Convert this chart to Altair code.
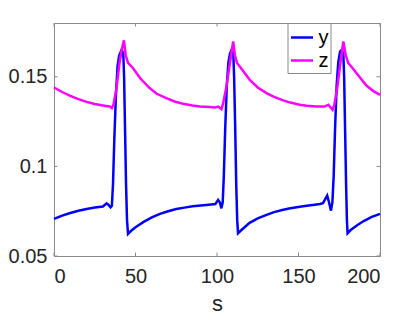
import altair as alt
import pandas as pd

# Series y (blue)
y_s = [0, 5, 10, 15, 20, 25, 30, 32.3, 33.5, 34.7, 35.5, 36.2, 37.0, 38.0, 39.0, 40.0, 41.5, 42.5, 43.0, 43.6, 44.2, 44.8, 45.4,
       47, 50, 55, 60, 65, 70, 75, 80, 85, 90, 95, 99, 100.7, 101.7, 102.7, 103.5, 104.2, 105, 106, 107, 108, 109, 110, 110.5,
       111.2, 111.8, 112.4, 112.9, 115, 120, 125, 130.4, 135, 140, 145, 150.8, 155, 160, 163.1, 165, 167.6, 168.7, 169.9, 170.8,
       171.6, 172.4, 173.4, 174.4, 175.5, 176.5, 177.5, 178, 178.6, 179.2, 179.7, 180.1, 182, 186, 190, 195, 200]
y_v = [0.0707, 0.0725, 0.0740, 0.0752, 0.0762, 0.0770, 0.0776, 0.0794, 0.0785, 0.0772, 0.0780, 0.0900, 0.1150, 0.1400, 0.1560,
       0.1620, 0.1650, 0.1630, 0.1500, 0.1200, 0.0900, 0.0700, 0.0623,
       0.0638, 0.0660, 0.0690, 0.0715, 0.0735, 0.0750, 0.0762, 0.0770, 0.0777, 0.0782, 0.0786, 0.0790, 0.0813, 0.0800, 0.0766,
       0.0800, 0.0950, 0.1200, 0.1450, 0.1580, 0.1630, 0.1650, 0.1630, 0.1500,
       0.1200, 0.0900, 0.0700, 0.0627, 0.0645, 0.0685, 0.0710, 0.0729, 0.0745, 0.0757, 0.0766, 0.0775, 0.0780, 0.0786, 0.0790,
       0.0795, 0.0837, 0.0800, 0.0753, 0.0800,
       0.0950, 0.1200, 0.1450, 0.1580, 0.1640, 0.1650, 0.1630, 0.1500, 0.1200, 0.0900, 0.0700, 0.0627, 0.0645, 0.0672, 0.0695,
       0.0718, 0.0735]

# Series z (magenta)
z_s = [0, 5, 10, 15, 20, 25, 30, 34.1, 35.5, 36.5, 38.2, 40.2, 41.5, 42.9, 44, 45.4, 48.4, 53, 58.7, 63, 68.9, 74, 79.2, 85,
       89.5, 95.5, 98.6, 100.7, 102.7, 103.7, 105.8, 107.8, 109.9, 111, 112.3, 115, 120.1, 125, 130.4, 135, 140.6, 145, 150.8,
       155, 161.1, 166, 168.3, 170.9, 172, 173.8, 175.6, 177.5, 179, 180.5, 183, 186, 191.8, 196, 200]
z_v = [0.1440, 0.1415, 0.1393, 0.1375, 0.1360, 0.1348, 0.1340, 0.1334, 0.1325, 0.1345, 0.1427, 0.1577, 0.1650, 0.1703, 0.1620,
       0.1577, 0.1549, 0.1490, 0.1437, 0.1405, 0.1381, 0.1362, 0.1349, 0.1340,
       0.1334, 0.1331, 0.1328, 0.1334, 0.1320, 0.1350, 0.1446, 0.1570, 0.1697, 0.1620, 0.1577, 0.1545, 0.1483, 0.1440, 0.1409,
       0.1388, 0.1368, 0.1356, 0.1344,
       0.1338, 0.1334, 0.1334, 0.1344, 0.1316, 0.1345, 0.1440, 0.1570, 0.1697, 0.1620, 0.1577, 0.1550, 0.1515, 0.1450, 0.1420,
       0.1399]

x_ticks = [0, 50, 100, 150, 200]
y_ticks = [0.05, 0.1, 0.15]
series_names = ["y", "z"]
series_colors = ["#0000ff", "#ff00ff"]

W, H = 326, 233
FONT = "Liberation Sans"
FRAME = "#8a8a8a"

df = pd.concat([
    pd.DataFrame({"s": y_s, "v": y_v, "series": "y"}),
    pd.DataFrame({"s": z_s, "v": z_v, "series": "z"}),
])

xscale = alt.Scale(domain=[0, 200], nice=False, zero=False)
yscale = alt.Scale(domain=[0.05, 0.18], nice=False, zero=False)

lines = alt.Chart(df).mark_line(strokeWidth=2.5).encode(
    x=alt.X("s:Q", scale=xscale, title="s",
            axis=alt.Axis(values=x_ticks, grid=False, ticks=False, tickSize=0, domain=False,
                          labelFont=FONT, labelFontSize=20, labelColor="#262626", labelPadding=10,
                          titleFont=FONT, titleFontSize=22, titleFontWeight="normal", titleColor="#262626",
                          titleBaseline="alphabetic", titleY=54)),
    y=alt.Y("v:Q", scale=yscale, title=None,
            axis=alt.Axis(values=y_ticks, grid=False, ticks=False, tickSize=0, domain=False,
                          labelFont=FONT, labelFontSize=20, labelColor="#262626", labelPadding=7,
                          labelExpr="datum.value == 0.1 ? '0.1' : format(datum.value, '.2f')")),
    color=alt.Color("series:N", scale=alt.Scale(domain=series_names, range=series_colors),
                    legend=alt.Legend(title=None, orient="none", legendX=233.5, legendY=0,
                                      strokeColor=FRAME, fillColor="white", padding=2, cornerRadius=0,
                                      symbolType="stroke", symbolSize=484, symbolStrokeWidth=2.5,
                                      labelFont=FONT, labelFontSize=20, labelColor="black",
                                      labelOffset=4, rowPadding=0)),
    order=alt.Order("s:Q"),
)

xt = pd.DataFrame({"t": x_ticks})
yt = pd.DataFrame({"t": y_ticks})

tick_b = alt.Chart(xt).mark_rule(color=FRAME, strokeWidth=1).encode(
    x=alt.X("t:Q", scale=xscale), y=alt.value(H), y2=alt.value(H - 3.5))
tick_t = alt.Chart(xt).mark_rule(color=FRAME, strokeWidth=1).encode(
    x=alt.X("t:Q", scale=xscale), y=alt.value(0), y2=alt.value(3.5))
tick_l = alt.Chart(yt).mark_rule(color=FRAME, strokeWidth=1).encode(
    y=alt.Y("t:Q", scale=yscale), x=alt.value(0), x2=alt.value(3.5))
tick_r = alt.Chart(yt).mark_rule(color=FRAME, strokeWidth=1).encode(
    y=alt.Y("t:Q", scale=yscale), x=alt.value(W), x2=alt.value(W - 3.5))

chart = alt.layer(tick_b, tick_t, tick_l, tick_r, lines).properties(
    width=W, height=H,
    autosize=alt.AutoSizeParams(type="none"),
    padding={"left": 46, "top": 15, "right": 20, "bottom": 60},
    background="white",
).configure_view(stroke=FRAME, strokeWidth=1)

chart.save("out.html", embed_options={"renderer": "svg", "actions": False})
